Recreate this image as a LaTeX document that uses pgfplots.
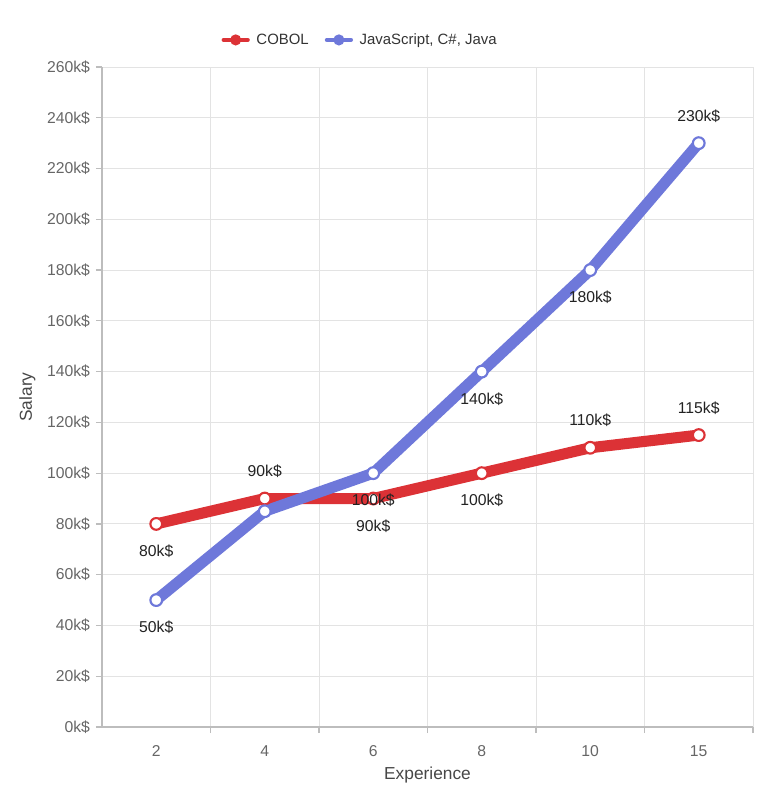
\documentclass[border=0pt]{standalone}
\usepackage{pgfplots}
\pgfplotsset{compat=1.18}
\usepackage{fontspec}
\setmainfont{Liberation Sans}
\definecolor{cobol}{HTML}{DC3236}
\definecolor{js}{HTML}{6E78DA}
\definecolor{gridc}{HTML}{E3E3E3}
\definecolor{axc}{HTML}{BDBDBD}
\definecolor{tickc}{HTML}{666666}
\definecolor{labc}{HTML}{222222}
\begin{document}
\begin{tikzpicture}
\begin{axis}[
  scale only axis, width=488.25pt, height=495pt,
  xmin=-0.5, xmax=5.5, ymin=0, ymax=260,
  xtick={0,...,5}, xticklabels={2,4,6,8,10,15},
  minor xtick={0.5,1.5,...,5.5},
  ytick={0,20,...,260},
  yticklabel={\pgfmathprintnumber[assume math mode=true]{\tick}k\$},
  axis x line=bottom, axis y line=left,
  axis line style={-, draw=axc, line width=0.9pt},
  tick align=outside,
  major tick length=4.5pt, minor tick length=4.5pt,
  major x tick style={draw=none},
  minor x tick style={draw=axc, line width=0.9pt},
  ytick style={draw=axc, line width=0.9pt},
  ymajorgrids, xminorgrids,
  major grid style={gridc, line width=0.7pt},
  minor grid style={gridc, line width=0.7pt},
  tick label style={font=\fontsize{11.8}{13}\selectfont, text=tickc},
  xticklabel style={yshift=-6pt},
  yticklabel style={xshift=-1pt},
  xlabel={Experience}, ylabel={Salary},
  label style={font=\fontsize{13}{15}\selectfont, text=black!72},
  xlabel style={at={(axis description cs:0.5,-0.0727)}, anchor=center},
  ylabel style={at={(axis description cs:-0.1147,0.5)}, anchor=center},
  legend columns=2,
  legend style={at={(axis description cs:0.397,1.041)}, anchor=center, draw=none, fill=none,
    font=\fontsize{11.2}{13}\selectfont, text=black!80,
    /tikz/every odd column/.append style={column sep=3pt},
    /tikz/every even column/.append style={column sep=10pt}},
  clip=false,
]
\addplot[cobol, line width=8.3pt, line join=round, line cap=round,
  mark=*, mark size=4.4pt, mark options={fill=white, draw=cobol, line width=1.6pt},
  legend image code/.code={\path[draw=cobol, line width=3.2pt] (0pt,0pt)--(18pt,0pt); \path[fill=cobol, draw=none] (9pt,0pt) circle (4.2pt);}]
  coordinates {(0,80) (1,90) (2,90) (3,100) (4,110) (5,115)};
\addlegendentry{COBOL}
\addplot[js, line width=8.3pt, line join=round, line cap=round,
  mark=*, mark size=4.4pt, mark options={fill=white, draw=js, line width=1.6pt},
  legend image code/.code={\path[draw=js, line width=3.2pt] (0pt,0pt)--(18pt,0pt); \path[fill=js, draw=none] (9pt,0pt) circle (4.2pt);}]
  coordinates {(0,50) (1,85) (2,100) (3,140) (4,180) (5,230)};
\addlegendentry{JavaScript, C\#, Java}
% labels above
\addplot[draw=none, forget plot, nodes near coords, point meta=explicit symbolic,
  every node near coord/.append style={anchor=center, yshift=20.5pt, font=\fontsize{11.8}{13}\selectfont, text=labc}]
  coordinates {(1,90)[90k\$] (4,110)[110k\$] (5,115)[115k\$] (5,230)[230k\$]};
% labels below
\addplot[draw=none, forget plot, nodes near coords, point meta=explicit symbolic,
  every node near coord/.append style={anchor=center, yshift=-20.5pt, font=\fontsize{11.8}{13}\selectfont, text=labc}]
  coordinates {(0,80)[80k\$] (2,90)[90k\$] (3,100)[100k\$] (0,50)[50k\$] (2,100)[100k\$] (3,140)[140k\$] (4,180)[180k\$]};
\coordinate (sw) at (rel axis cs:0,0);
\coordinate (ne) at (rel axis cs:1,1);
\end{axis}
\pgfresetboundingbox
\path ([shift={(-76.5pt,-57.75pt)}]sw) rectangle ([shift={(11.25pt,50.25pt)}]ne);
\end{tikzpicture}
\end{document}
